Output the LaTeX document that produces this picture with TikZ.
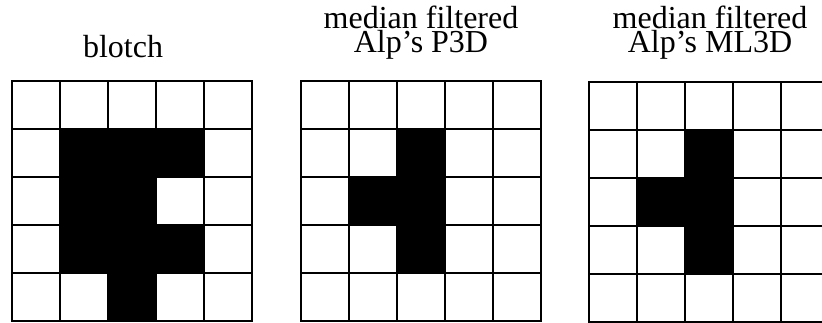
\documentclass[tikz,border=0pt]{standalone}
\usepackage{fontspec}
\setmainfont{Liberation Serif}
\usetikzlibrary{positioning}
\tikzset{
  gridline/.style={draw=black,line width=2.6pt},
  blackcell/.style={fill=black},
  caption/.style={font=\fontsize{32}{19.5}\selectfont,align=center,inner sep=0pt}
}
\begin{document}
\begin{tikzpicture}[x=1pt,y=-1pt]
  \useasboundingbox (0,0) rectangle (822,322);
  \clip (0,0) rectangle (822,322);
  % grid corners
  \coordinate (blotch) at (12,81);
  \coordinate (pthree) at (301,81);
  \coordinate (mlthree) at (589,82);
  % titles
  \node[caption,anchor=base] (blotchtitle) at (123,57) {blotch};
  \node[caption,anchor=base] (pthreetitle) at (421,52.5) {median filtered\\Alp's P3D};
  \node[caption,anchor=base] (mlthreetitle) at (710,52.5) {median filtered\\Alp's ML3D};
  % black cells (column, row)
  \foreach \c/\r in {1/1,2/1,3/1,1/2,2/2,1/3,2/3,3/3,2/4}
    \fill[blackcell,shift={(blotch)}] (\c*48,\r*48) rectangle ++(48,48);
  \foreach \g in {pthree,mlthree}
    \foreach \c/\r in {2/1,1/2,2/2,2/3}
      \fill[blackcell,shift={(\g)}] (\c*48,\r*48) rectangle ++(48,48);
  % grid lines
  \foreach \g in {blotch,pthree,mlthree}{
    \foreach \i in {1,...,4}{
      \draw[gridline,shift={(\g)}] (\i*48,0) -- (\i*48,240);
      \draw[gridline,shift={(\g)}] (0,\i*48) -- (240,\i*48);
    }
    \draw[gridline,shift={(\g)}] (0,0) rectangle (240,240);
  }
\end{tikzpicture}
\end{document}
